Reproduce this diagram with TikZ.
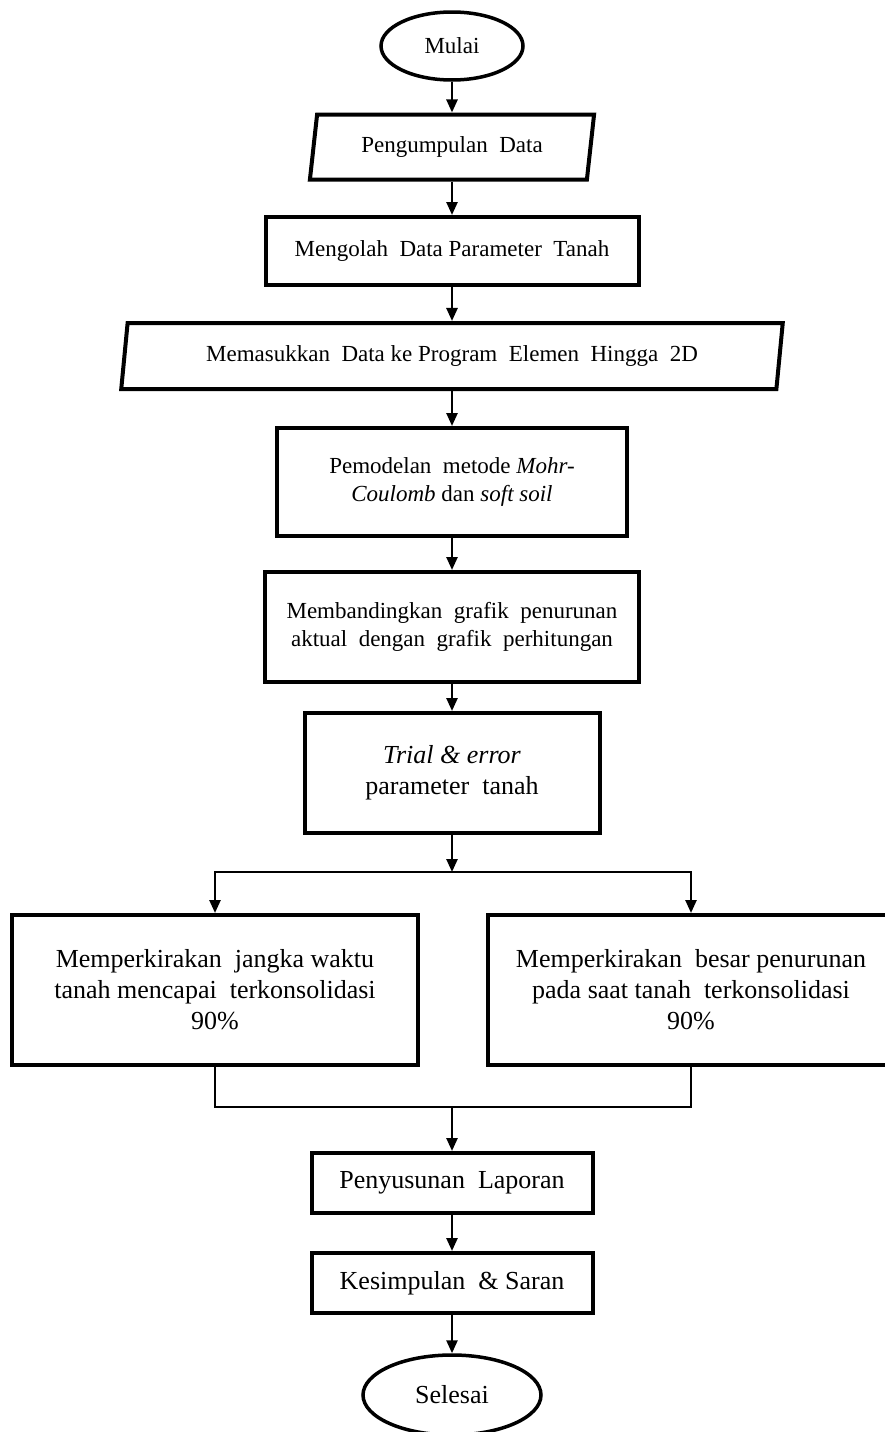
\documentclass[tikz,border=0pt]{standalone}
\usepackage{fontspec}
\setmainfont{Liberation Serif}
\usetikzlibrary{arrows.meta,calc,positioning,shapes.geometric}

\begin{document}
\begin{tikzpicture}[x=1pt,y=-1pt,
		proses/.style={draw,line width=4pt,rectangle,align=center,inner sep=0pt},
		data/.style={draw,line width=4pt,trapezium,trapezium left angle=77,trapezium right angle=103,trapezium stretches=true,align=center,inner sep=0pt},
		ujung/.style={draw,line width=3.5pt,ellipse,inner sep=0pt},
		kecil/.style={font=\fontsize{23}{28}\selectfont},
		besar/.style={font=\fontsize{26}{31}\selectfont},
		panah/.style={line width=2.5pt,-{Triangle[length=13pt,width=11pt]}},
		garis/.style={line width=2.5pt}]
		\useasboundingbox (0,0) rectangle (884,1432);
		\node[ujung,kecil,minimum width=142pt,minimum height=68pt] (mulai) at (452,46) {Mulai};
		\node[data,kecil,minimum width=285pt,minimum height=65pt] (kumpul) at (452,147) {Pengumpulan\ \ Data};
		\node[proses,kecil,minimum width=373pt,minimum height=68pt] (olah) at (452,251) {Mengolah\ \ Data Parameter\ \ Tanah};
		\node[data,kecil,minimum width=665pt,minimum height=66pt] (masuk) at (452,356) {Memasukkan\ \ Data ke Program\ \ Elemen\ \ Hingga\ \ 2D};
		\node[proses,kecil,minimum width=350pt,minimum height=108pt] (model) at (452,482) {Pemodelan\ \ metode \textit{Mohr-}\\\textit{Coulomb} dan \textit{soft soil}};
		\node[proses,kecil,minimum width=374pt,minimum height=110pt] (banding) at (452,627) {Membandingkan\ \ grafik\ \ penurunan\\aktual\ \ dengan\ \ grafik\ \ perhitungan};
		\node[proses,besar,minimum width=295pt,minimum height=120pt] (trial) at (452,773) {\textit{Trial \& error}\\parameter\ \ tanah};
		\node[proses,besar,minimum width=406pt,minimum height=150pt] (waktu) at (215,990) {Memperkirakan\ \ jangka waktu\\tanah mencapai\ \ terkonsolidasi\\90\%};
		\node[proses,besar,minimum width=406pt,minimum height=150pt] (turun) at (691,990) {Memperkirakan\ \ besar penurunan\\pada saat tanah\ \ terkonsolidasi\\90\%};
		\node[proses,besar,minimum width=281pt,minimum height=60pt] (lapor) at (452,1183) {Penyusunan\ \ Laporan};
		\node[proses,besar,minimum width=281pt,minimum height=60pt] (simpul) at (452,1283) {Kesimpulan\ \ \& Saran};
		\node[ujung,besar,minimum width=178pt,minimum height=80pt] (selesai) at (452,1395) {Selesai};
		\coordinate (cabang) at (452,872);
		\coordinate (gabung) at (452,1107);
		\draw[panah] (mulai) -- (kumpul);
		\draw[panah] (kumpul) -- (olah);
		\draw[panah] (olah) -- (masuk);
		\draw[panah] (masuk) -- (model);
		\draw[panah] (model) -- (banding);
		\draw[panah] (banding) -- (trial);
		\draw[panah] (trial) -- (cabang);
		\draw[panah] (cabang) -| (waktu);
		\draw[panah] (cabang) -| (turun);
		\draw[garis] (waktu) |- (gabung) -| (turun);
		\draw[panah] (gabung) -- (lapor);
		\draw[panah] (lapor) -- (simpul);
		\draw[panah] (simpul) -- (selesai);
\end{tikzpicture}
\end{document}
